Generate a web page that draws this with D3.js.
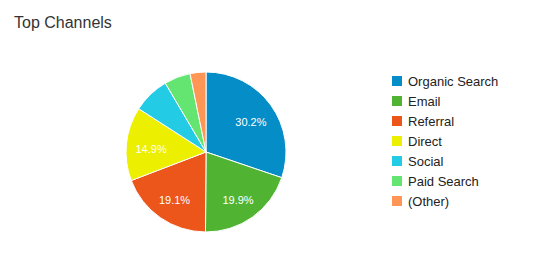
<!DOCTYPE html>
<html>
<head>
<meta charset="utf-8">
<script src="https://cdn.jsdelivr.net/npm/d3@7"></script>
<style>
  html, body { margin: 0; padding: 0; background: #fff; }
  svg { display: block; }
</style>
</head>
<body>
<svg id="chart" width="538" height="269"></svg>
<script>
const categories = ["Organic Search", "Email", "Referral", "Direct", "Social", "Paid Search", "(Other)"];
const values = [30.2, 19.9, 19.1, 14.9, 7.4, 5.3, 3.2];
const colors = ["#058dc7", "#50b432", "#ed561b", "#edef00", "#24cbe5", "#64e572", "#ff9655"];
const title = "Top Channels";

const svg = d3.select("#chart");
const font = "Arial, 'Liberation Sans', sans-serif";

svg.append("text")
  .attr("x", 14).attr("y", 28)
  .attr("font-family", font).attr("font-size", 16)
  .attr("fill", "#333")
  .text(title);

const cx = 206, cy = 152, R = 80;
const data = categories.map((c, i) => ({ name: c, value: values[i], color: colors[i] }));
const pie = d3.pie().value(d => d.value).sort(null);
const arcs = pie(data);
const arc = d3.arc().innerRadius(0).outerRadius(R);
const labelArc = d3.arc().innerRadius(R * 0.69).outerRadius(R * 0.69);

const g = svg.append("g").attr("transform", `translate(${cx},${cy})`);
g.selectAll("path").data(arcs).join("path")
  .attr("d", arc)
  .attr("fill", d => d.data.color)
  .attr("stroke", "#fff")
  .attr("stroke-width", 1);

g.selectAll("text").data(arcs.filter(d => d.data.value >= 10)).join("text")
  .attr("transform", d => `translate(${labelArc.centroid(d)})`)
  .attr("text-anchor", "middle")
  .attr("dy", "0.6em")
  .attr("font-family", font).attr("font-size", 11)
  .attr("fill", "#fff")
  .text(d => d.data.value.toFixed(1) + "%");

const y = d3.scalePoint().domain(categories).range([81, 201]);
const legend = svg.append("g");
const items = legend.selectAll("g").data(data).join("g")
  .attr("transform", d => `translate(392,${y(d.name)})`);
items.append("rect")
  .attr("x", 0).attr("y", -5).attr("width", 10).attr("height", 10)
  .attr("fill", d => d.color);
items.append("text")
  .attr("x", 16).attr("y", 0).attr("dy", "0.35em")
  .attr("font-family", font).attr("font-size", 13)
  .attr("fill", "#222")
  .text(d => d.name);
</script>
</body>
</html>
